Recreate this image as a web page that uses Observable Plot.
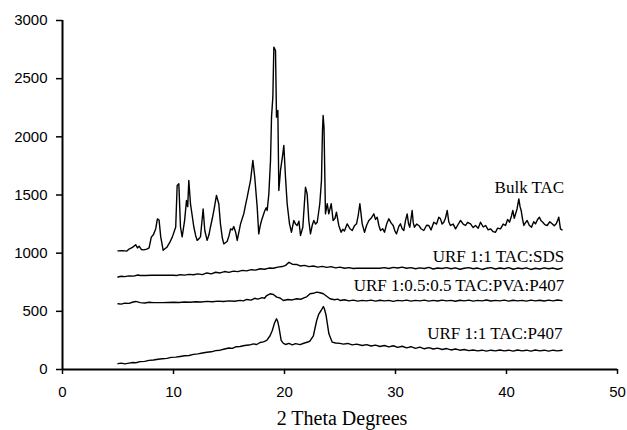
<!DOCTYPE html>
<html>
<head>
<meta charset="utf-8">
<script src="https://cdn.jsdelivr.net/npm/d3@7"></script>
<script src="https://cdn.jsdelivr.net/npm/@observablehq/plot@0.6"></script>
<style>
  html, body { margin: 0; padding: 0; background: #fff; }
  #chart svg { display: block; }
</style>
</head>
<body>
<div id="chart"></div>
<script>
// 2-theta (degrees) vs intensity
const bulkTAC = [
  [5.0,1020],[5.4,1022],[5.8,1018],[6.0,1035],[6.3,1050],[6.6,1072],[6.75,1045],[6.9,1060],[7.1,1032],[7.3,1028],[7.6,1035],[7.8,1045],
  [8.0,1138],[8.2,1160],[8.4,1210],[8.55,1295],[8.7,1285],[8.85,1140],[9.07,1025],[9.25,1040],[9.4,1050],[9.65,1090],[9.9,1140],
  [10.2,1225],[10.33,1582],[10.48,1596],[10.63,1225],[10.78,1140],[11.0,1280],[11.17,1453],[11.28,1400],[11.38,1625],[11.53,1425],
  [11.83,1225],[12.0,1150],[12.13,1110],[12.3,1125],[12.43,1140],[12.67,1380],[12.82,1195],[13.03,1110],[13.2,1160],[13.33,1225],
  [13.5,1300],[13.69,1395],[13.87,1496],[14.08,1425],[14.23,1252],[14.4,1130],[14.53,1080],[14.83,1100],[15.0,1150],[15.14,1209],
  [15.3,1200],[15.43,1229],[15.6,1180],[15.74,1109],[16.04,1252],[16.2,1300],[16.33,1338],[16.5,1420],[16.64,1481],[16.8,1560],
  [16.94,1625],[17.15,1797],[17.32,1653],[17.54,1395],[17.68,1166],[17.8,1230],[17.93,1281],[18.1,1330],[18.23,1367],[18.35,1390],
  [18.44,1367],[18.59,1510],[18.74,1797],[18.83,2169],[18.95,2341],[19.04,2771],[19.19,2742],[19.28,2169],[19.40,2226],[19.49,1539],
  [19.64,1711],[19.85,1854],[19.94,1926],[20.09,1653],[20.24,1425],[20.45,1252],[20.63,1180],[20.84,1281],[21.0,1250],[21.14,1238],
  [21.3,1275],[21.44,1152],[21.65,1223],[21.89,1567],[22.04,1510],[22.19,1281],[22.34,1166],[22.5,1240],[22.64,1281],[22.8,1250],
  [22.95,1266],[23.18,1425],[23.33,1625],[23.42,2050],[23.48,2184],[23.56,2080],[23.69,1338],[23.85,1425],[23.99,1338],[24.21,1425],
  [24.38,1281],[24.55,1300],[24.68,1352],[24.89,1238],[25.1,1180],[25.25,1205],[25.4,1190],[25.65,1252],[25.9,1210],[26.1,1195],
  [26.3,1235],[26.49,1252],[26.65,1330],[26.79,1425],[27.0,1252],[27.21,1180],[27.4,1240],[27.6,1281],[27.8,1300],[28.05,1338],
  [28.2,1290],[28.35,1309],[28.5,1240],[28.65,1195],[28.85,1210],[29.01,1180],[29.2,1250],[29.4,1295],[29.6,1260],[29.79,1238],
  [29.95,1190],[30.09,1166],[30.3,1230],[30.45,1252],[30.6,1210],[30.75,1195],[30.9,1280],[31.05,1338],[31.18,1250],[31.29,1223],
  [31.5,1367],[31.6,1260],[31.71,1223],[31.9,1250],[32.1,1238],[32.3,1210],[32.55,1195],[32.8,1240],[33.0,1238],[33.2,1200],
  [33.45,1266],[33.7,1250],[33.9,1309],[34.05,1295],[34.2,1250],[34.35,1266],[34.5,1300],[34.66,1367],[34.8,1270],[34.95,1238],
  [35.2,1250],[35.41,1209],[35.6,1240],[35.86,1281],[36.1,1250],[36.31,1238],[36.5,1265],[36.76,1252],[37.0,1220],[37.21,1238],
  [37.45,1215],[37.66,1266],[37.9,1225],[38.11,1238],[38.35,1200],[38.56,1209],[38.8,1185],[39.01,1180],[39.2,1215],[39.46,1209],
  [39.7,1250],[39.91,1238],[40.1,1290],[40.27,1266],[40.45,1320],[40.57,1367],[40.7,1300],[40.82,1338],[40.95,1380],[41.11,1467],
  [41.22,1400],[41.32,1367],[41.45,1290],[41.56,1238],[41.7,1260],[41.86,1281],[42.05,1240],[42.25,1223],[42.45,1270],[42.61,1252],
  [42.8,1290],[42.97,1309],[43.1,1280],[43.27,1266],[43.45,1245],[43.66,1238],[43.9,1270],[44.11,1252],[44.3,1235],[44.48,1252],
  [44.6,1280],[44.71,1309],[44.86,1209],[45.0,1200]
];
const urfSDS = [
  [5.0,795],[5.3,802],[5.6,798],[6.0,805],[6.4,803],[6.8,812],[7.0,808],[7.5,808],[8.0,810],[9.0,810],[10.0,810],[10.3,808],
  [10.6,815],[11.0,811],[11.4,818],[11.8,814],[12.2,822],[12.6,816],[13.0,830],[13.4,822],[13.8,836],[14.2,830],[14.6,842],
  [15.0,835],[15.4,846],[15.8,841],[16.2,852],[16.6,848],[17.0,858],[17.4,854],[17.8,866],[18.2,862],[18.6,872],[19.0,870],
  [19.4,880],[19.8,885],[20.1,895],[20.4,922],[20.7,905],[21.1,903],[21.4,890],[21.8,895],[22.2,884],[22.6,890],[23.0,880],
  [23.4,886],[23.8,878],[24.2,884],[24.6,874],[25.0,880],[25.4,870],[25.8,876],[26.2,868],[26.5,870],[28.6,870],[29.0,876],
  [29.4,868],[29.8,878],[30.2,872],[30.6,880],[31.0,870],[31.4,876],[31.8,866],[32.2,874],[32.6,868],[33.0,878],[33.4,864],
  [33.8,872],[34.2,868],[34.6,876],[35.0,866],[35.4,874],[35.8,862],[36.2,870],[36.6,876],[37.0,866],[37.4,872],[37.8,860],
  [38.2,870],[38.6,876],[39.0,864],[39.4,872],[39.8,866],[40.2,876],[40.6,862],[41.0,872],[41.4,866],[41.8,874],[42.2,860],
  [42.6,870],[43.0,864],[43.4,874],[43.8,866],[44.2,872],[44.6,862],[45.0,872]
];
const urfPVA = [
  [5.0,565],[5.3,562],[5.6,570],[6.0,568],[6.3,578],[6.6,585],[7.0,575],[7.4,572],[7.8,578],[8.2,575],[9.0,575],[10.0,578],
  [10.5,576],[11.0,580],[11.5,578],[12.0,582],[12.5,580],[13.0,586],[13.5,582],[14.0,588],[14.5,585],[15.0,590],[15.5,587],
  [16.0,594],[16.3,590],[16.6,602],[17.0,596],[17.3,612],[17.6,605],[18.0,618],[18.2,612],[18.4,636],[18.7,651],[19.0,645],
  [19.3,622],[19.6,615],[19.9,593],[20.3,602],[20.7,598],[21.1,608],[21.5,604],[21.8,618],[22.0,625],[22.3,651],[22.6,655],
  [22.9,665],[23.2,660],[23.5,651],[23.8,630],[24.1,608],[24.5,600],[24.8,605],[25.0,593],[25.4,600],[25.8,590],[26.2,596],
  [26.6,588],[27.0,594],[27.4,590],[27.8,596],[28.2,588],[28.6,595],[29.0,590],[29.4,594],[29.8,586],[30.2,594],[30.6,590],
  [31.0,596],[31.4,588],[31.8,594],[32.2,590],[32.6,596],[33.0,588],[33.4,594],[33.8,589],[34.2,596],[34.6,590],[35.0,594],
  [35.4,587],[35.8,595],[36.2,590],[36.6,596],[37.0,588],[37.4,594],[37.8,590],[38.2,597],[38.6,589],[39.0,594],[39.4,590],
  [39.8,596],[40.2,588],[40.6,595],[41.0,590],[41.4,594],[41.8,588],[42.2,596],[42.6,590],[43.0,595],[43.4,589],[43.8,596],
  [44.2,590],[44.6,597],[45.0,592]
];
const urfP407 = [
  [5.0,50],[5.3,55],[5.6,48],[6.0,55],[6.3,60],[6.6,58],[7.0,68],[7.4,70],[7.8,78],[8.2,82],[8.6,88],[9.0,92],[9.4,96],
  [9.8,104],[10.2,106],[10.6,112],[11.0,118],[11.4,120],[11.8,130],[12.2,134],[12.6,142],[13.0,148],[13.4,152],[13.8,162],
  [14.2,166],[14.6,176],[15.0,185],[15.3,182],[15.6,195],[16.0,198],[16.4,206],[16.8,210],[17.2,220],[17.5,215],[17.8,232],
  [18.1,238],[18.4,250],[18.7,290],[18.9,335],[19.1,400],[19.28,436],[19.4,410],[19.5,364],[19.7,250],[19.9,225],[20.1,215],
  [20.4,224],[20.7,212],[21.0,222],[21.4,214],[21.8,228],[22.1,236],[22.3,245],[22.6,290],[22.9,421],[23.1,479],[23.3,507],
  [23.5,541],[23.6,520],[23.75,464],[24.0,307],[24.3,235],[24.6,228],[25.0,225],[25.3,218],[25.7,224],[26.1,212],[26.5,218],
  [27.0,206],[27.4,214],[27.8,202],[28.2,210],[28.6,198],[29.0,206],[29.4,194],[29.8,204],[30.2,190],[30.6,200],[31.0,186],
  [31.4,196],[31.8,182],[32.2,192],[32.6,178],[33.0,188],[33.4,176],[33.8,184],[34.2,172],[34.6,180],[35.0,168],[35.4,176],
  [35.8,166],[36.2,172],[36.6,162],[37.0,168],[37.4,160],[37.8,166],[38.2,158],[38.6,166],[39.0,160],[39.4,168],[39.8,160],
  [40.2,166],[40.6,158],[41.0,168],[41.4,160],[41.8,166],[42.2,158],[42.6,168],[43.0,160],[43.4,166],[43.8,158],[44.2,166],
  [44.6,160],[45.0,165]
];
const seriesLabels = [
  {text: "Bulk TAC", x: 45.2, y: 1568},
  {text: "URF 1:1 TAC:SDS", x: 45.2, y: 975},
  {text: "URF 1:0.5:0.5 TAC:PVA:P407", x: 45.2, y: 720},
  {text: "URF 1:1 TAC:P407", x: 45.05, y: 310}
];
const xTicks = [0, 10, 20, 30, 40, 50];
const yTicks = [0, 500, 1000, 1500, 2000, 2500, 3000];
const xTitle = "2 Theta Degrees";

const toRows = (arr) => arr.map(([x, y]) => ({x, y}));
const lineOpts = {x: "x", y: "y", stroke: "#000", strokeWidth: 1.4, curve: "linear"};
const sans = "Liberation Sans, Arial, sans-serif";
const serif = "Liberation Serif, Times New Roman, serif";

const chart = Plot.plot({
  width: 627,
  height: 430,
  marginLeft: 62,
  marginRight: 10,
  marginTop: 20,
  marginBottom: 61,
  style: {background: "#fff", color: "#000"},
  x: {domain: [0, 50]},
  y: {domain: [0, 3000]},
  marks: [
    Plot.axisX(xTicks, {tickSize: 5, tickPadding: 12, fontSize: 15, fontFamily: sans, label: null, tickFormat: (d) => String(d), stroke: "#000", strokeWidth: 1.5}),
    Plot.axisY(yTicks, {tickSize: 6, tickPadding: 9, fontSize: 15, fontFamily: sans, label: null, tickFormat: (d) => String(d), stroke: "#000", strokeWidth: 1.5}),
    Plot.line(toRows(bulkTAC), lineOpts),
    Plot.line(toRows(urfSDS), lineOpts),
    Plot.line(toRows(urfPVA), lineOpts),
    Plot.line(toRows(urfP407), lineOpts),
    Plot.ruleY([0], {stroke: "#000", strokeWidth: 2}),
    Plot.ruleX([0], {stroke: "#000", strokeWidth: 2}),
    Plot.text(seriesLabels, {x: "x", y: "y", text: "text", textAnchor: "end", lineAnchor: "middle", fontSize: 17, fontFamily: serif, fill: "#000"}),
    Plot.text([xTitle], {frameAnchor: "bottom", text: (d) => d, dy: 49, dx: 2, lineAnchor: "middle", fontSize: 20, fontFamily: serif, fill: "#000"})
  ]
});
document.getElementById("chart").appendChild(chart);
</script>
</body>
</html>
